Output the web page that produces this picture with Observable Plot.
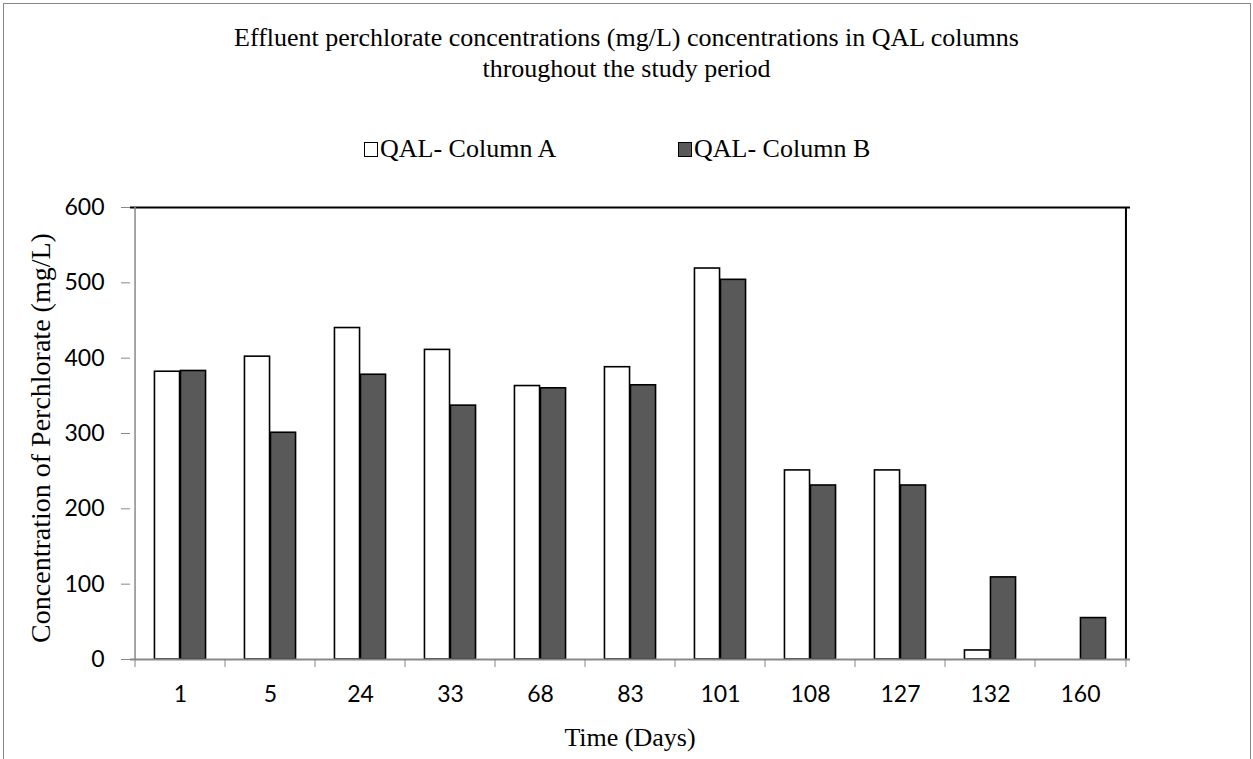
<!DOCTYPE html>
<html>
<head>
<meta charset="utf-8">
<script src="https://cdn.jsdelivr.net/npm/d3@7"></script>
<script src="https://cdn.jsdelivr.net/npm/@observablehq/plot@0.6"></script>
<style>
  html, body { margin: 0; padding: 0; background: #fff; overflow: hidden; }
  #wrap { position: relative; width: 1253px; height: 759px; overflow: hidden; }
  #frame { position: absolute; left: 3px; top: 3px; width: 1246px; height: 800px; border: 1.5px solid #888; }
  .serif { font-family: "Liberation Serif", "DejaVu Serif", serif; color: #000; }
  #title { position: absolute; left: 0; width: 1253px; top: 22px; text-align: center; font-size: 26px; line-height: 31px; }
  .leg { position: absolute; top: 134px; font-size: 26px; line-height: 30px; white-space: nowrap; }
  .sw { display: inline-block; width: 12px; height: 13px; border: 1px solid #000; vertical-align: 0px; margin-right: 2px; }
  #ytitle { position: absolute; left: 41px; top: 438px; transform: translate(-50%, -50%) rotate(-90deg); font-size: 28px; white-space: nowrap; }
  #xtitle { position: absolute; left: 630px; top: 738px; transform: translate(-50%, -50%); font-size: 26px; white-space: nowrap; }
  #chart { position: absolute; left: 0; top: 0; }
</style>
</head>
<body>
<div id="wrap">
  <div id="frame"></div>
  <div id="chart"></div>
  <div id="title" class="serif">Effluent perchlorate concentrations (mg/L) concentrations in QAL columns<br>throughout the study period</div>
  <div class="leg serif" style="left:364px;"><span class="sw" style="background:#fff"></span>QAL- Column A</div>
  <div class="leg serif" style="left:678px;"><span class="sw" style="background:#595959"></span>QAL- Column B</div>
  <div id="ytitle" class="serif">Concentration of Perchlorate (mg/L)</div>
  <div id="xtitle" class="serif">Time (Days)</div>
</div>
<script>
// Data
const days = ["1", "5", "24", "33", "68", "83", "101", "108", "127", "132", "160"];
const columnA = [382, 402, 440, 411, 363, 388, 519, 251, 251, 12, 0];
const columnB = [383, 301, 378, 337, 360, 364, 504, 231, 231, 109, 55];
const yTicks = [0, 100, 200, 300, 400, 500, 600];

const dataA = days.map((d, i) => ({day: d, value: columnA[i]}));
const dataB = days.map((d, i) => ({day: d, value: columnB[i]}));

const W = 1253, H = 759;
const mL = 130, mR = 123, mT = 207, mB = 100;
const band = (W - mL - mR) / days.length;
const barW = 26;
const half = band / 2;

const chart = Plot.plot({
  width: W,
  height: H,
  marginLeft: mL,
  marginRight: mR,
  marginTop: mT,
  marginBottom: mB,
  style: {fontFamily: "Lato, 'Open Sans', sans-serif", fontSize: "23px", color: "#000", background: "transparent"},
  x: {domain: days, padding: 0, label: null},
  y: {domain: [0, 600], label: null},
  marks: [
    // plot border top & right (black)
    Plot.ruleY([600], {stroke: "#000", strokeWidth: 2}),
    Plot.ruleX([days[days.length - 1]], {dx: half, stroke: "#000", strokeWidth: 2}),
    // bars
    Plot.barY(dataA, {x: "day", y: "value", fill: "#fff", stroke: "#000", strokeWidth: 1.6,
      insetLeft: half - barW, insetRight: half}),
    Plot.barY(dataB, {x: "day", y: "value", fill: "#595959", stroke: "#000", strokeWidth: 1.6,
      insetLeft: half, insetRight: half - barW}),
    // y axis
    Plot.axisY({ticks: yTicks, tickSize: 9, tickPadding: 17, stroke: "#888", label: null, fill: "#000", fontSize: 23}),
    Plot.ruleX([days[0]], {dx: -half, stroke: "#888", strokeWidth: 1.5}),
    // x axis line
    Plot.ruleY([0], {stroke: "#888", strokeWidth: 2}),
    // x boundary ticks
    Plot.axisX({tickSize: 8, dx: -half, tickFormat: () => "", stroke: "#888", label: null}),
    Plot.axisX([days[days.length - 1]], {tickSize: 8, dx: half, tickFormat: () => "", stroke: "#888", label: null}),
    // x tick labels
    Plot.axisX({tickSize: 0, tickPadding: 26, label: null, fill: "#000", fontSize: 23})
  ]
});
document.getElementById("chart").appendChild(chart);
</script>
</body>
</html>
